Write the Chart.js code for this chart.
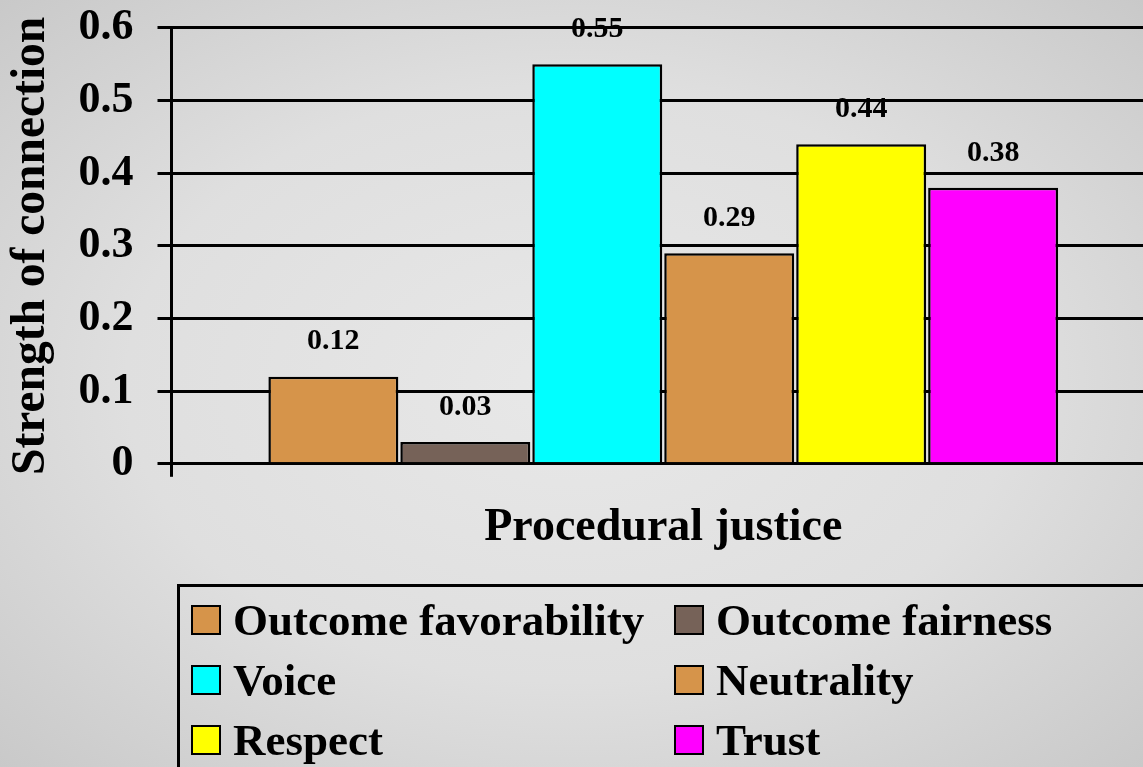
<!DOCTYPE html>
<html>
<head>
<meta charset="utf-8">
<script src="https://cdn.jsdelivr.net/npm/chart.js@4"></script>
<style>
  html, body { margin: 0; padding: 0; width: 1143px; height: 767px; overflow: hidden; }
  body {
    background: radial-gradient(ellipse at 50% 50%, #e8e8e8 0%, #dfdfdf 55%, #c9c9c9 100%);
    position: relative;
    font-family: "Liberation Serif", "Times New Roman", serif;
  }
  #wrap { position: absolute; left: 0; top: 0; width: 1170px; height: 600px; }
  #legend {
    position: absolute; left: 177px; top: 584px; width: 1100px; height: 250px;
    border: 3px solid #000; box-sizing: border-box;
    display: grid; grid-template-columns: 483px 483px; grid-auto-rows: 60px;
    padding: 3px 0 0 11px;
  }
  .item { display: flex; align-items: center; font-weight: bold; font-size: 45px; color: #000; white-space: nowrap; }
  .sw { width: 26px; height: 26px; border: 2px solid #000; margin-right: 12px; flex: none; }
</style>
</head>
<body>
<div id="wrap"><canvas id="chart"></canvas></div>
<div id="legend"></div>
<script>
const categories = ['Procedural justice'];
const seriesNames = ['Outcome favorability', 'Outcome fairness', 'Voice', 'Neutrality', 'Respect', 'Trust'];
const seriesValues = [0.12, 0.03, 0.55, 0.29, 0.44, 0.38];
const seriesColors = ['#D6944A', '#766258', '#00FFFF', '#D6944A', '#FFFF00', '#FF00FF'];
const yTicks = [0, 0.1, 0.2, 0.3, 0.4, 0.5, 0.6];

const serif = '"Liberation Serif", "Times New Roman", serif';

// value labels above each bar
const valueLabels = {
  id: 'valueLabels',
  afterDatasetsDraw(chart) {
    const ctx = chart.ctx;
    ctx.save();
    ctx.font = 'bold 30px ' + serif;
    ctx.fillStyle = '#000';
    ctx.textAlign = 'center';
    ctx.textBaseline = 'middle';
    chart.data.datasets.forEach((ds, i) => {
      const bar = chart.getDatasetMeta(i).data[0];
      ctx.fillText(ds.data[0].toFixed(2), bar.x, bar.y - 35);
    });
    ctx.restore();
  }
};

new Chart(document.getElementById('chart'), {
  type: 'bar',
  data: {
    labels: categories,
    datasets: seriesNames.map((name, i) => ({
      label: name,
      data: [seriesValues[i]],
      backgroundColor: seriesColors[i],
      borderColor: '#000',
      borderWidth: 2.5,
      categoryPercentage: 0.805,
      barPercentage: 0.985
    }))
  },
  options: {
    responsive: true,
    maintainAspectRatio: false,
    animation: false,
    layout: { padding: { top: 0, right: 15, bottom: 20, left: 0 } },
    plugins: {
      legend: { display: false },
      tooltip: { enabled: false }
    },
    scales: {
      x: {
        grid: { drawOnChartArea: false, color: '#000', lineWidth: 3, tickLength: 13 },
        border: { color: '#000', width: 3 },
        ticks: { color: '#000', padding: 24, font: { family: serif, size: 46, weight: 'bold' } }
      },
      y: {
        min: 0,
        max: 0.6,
        afterBuildTicks(scale) { scale.ticks = yTicks.map(v => ({ value: v })); },
        grid: { color: '#000', lineWidth: 3, tickLength: 14 },
        border: { color: '#000', width: 3 },
        ticks: {
          color: '#000',
          padding: 24,
          // small lineHeight keeps the top label from pushing the plot down
          font: { family: serif, size: 44, weight: 'bold', lineHeight: 0.18 },
          callback: v => v === 0 ? '0' : v.toFixed(1)
        },
        title: {
          display: true,
          text: 'Strength of connection',
          color: '#000',
          padding: { top: 8, bottom: -1 },
          font: { family: serif, size: 47.5, weight: 'bold', lineHeight: 1 }
        }
      }
    }
  },
  plugins: [valueLabels]
});

// legend in two columns, from the series arrays
const legend = document.getElementById('legend');
seriesNames.forEach((name, i) => {
  const item = document.createElement('div');
  item.className = 'item';
  const sw = document.createElement('span');
  sw.className = 'sw';
  sw.style.background = seriesColors[i];
  item.appendChild(sw);
  item.appendChild(document.createTextNode(name));
  legend.appendChild(item);
});
</script>
</body>
</html>
